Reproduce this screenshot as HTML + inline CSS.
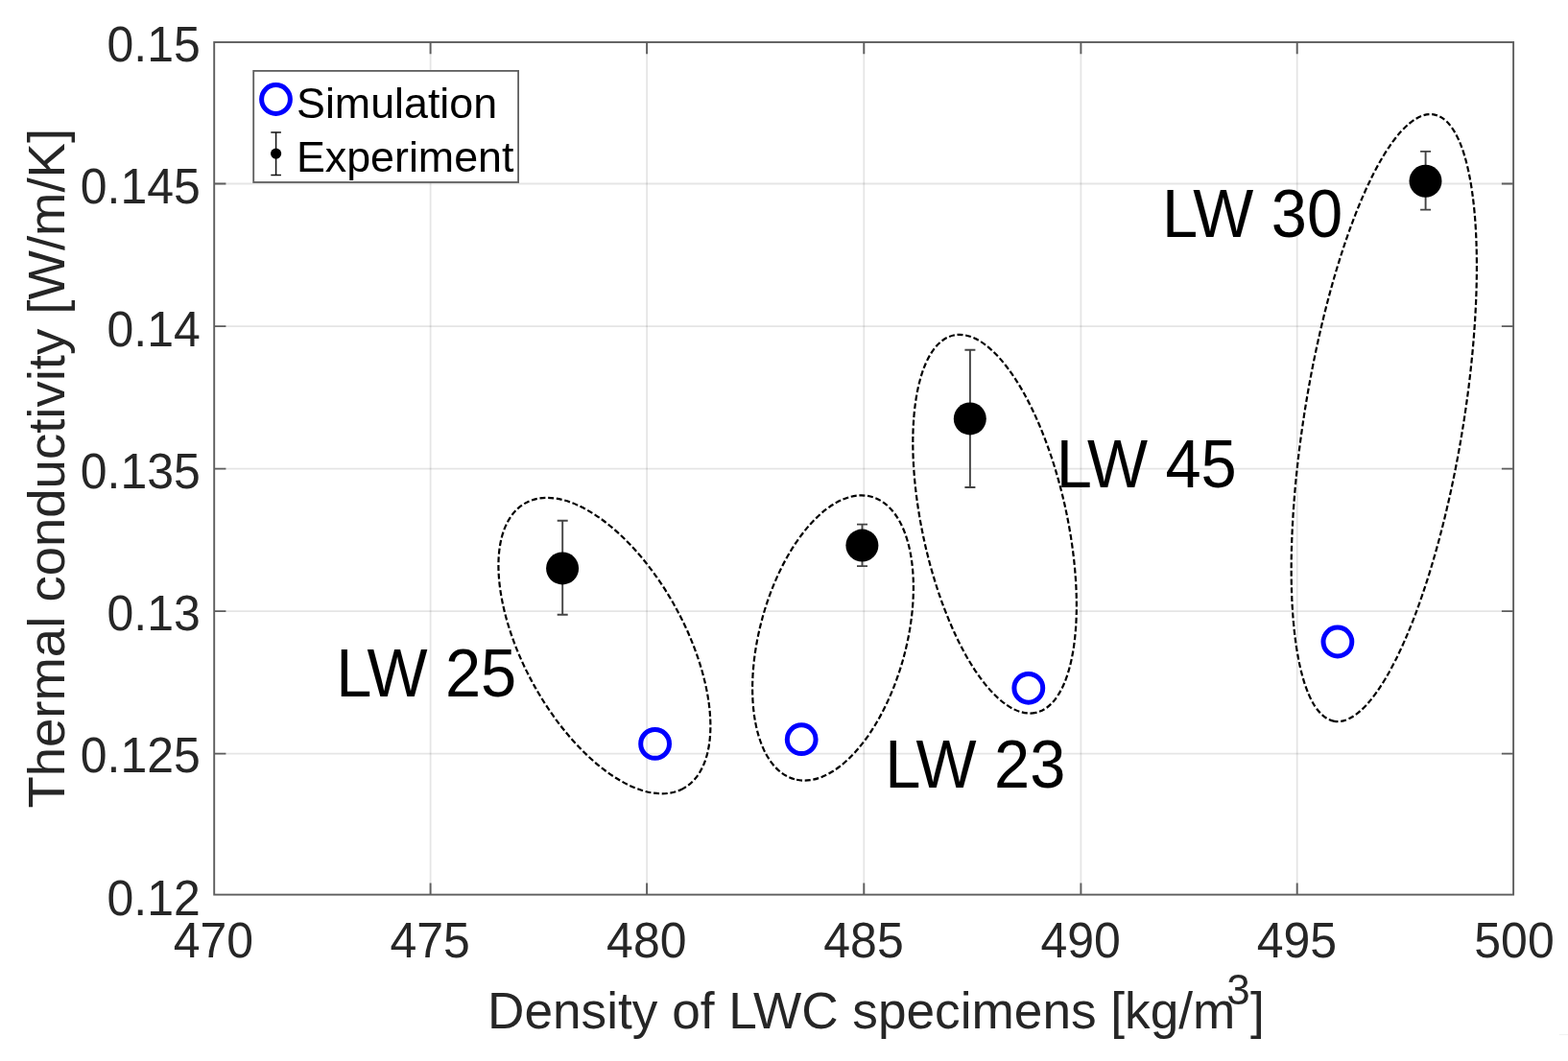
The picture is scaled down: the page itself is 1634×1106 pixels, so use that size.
<!DOCTYPE html>
<html><head><meta charset="utf-8"><title>Thermal conductivity vs density</title>
<style>
html,body{margin:0;padding:0;background:#fff;width:1634px;height:1106px;overflow:hidden}
svg{display:block}
text{font-family:"Liberation Sans",Arial,Helvetica,sans-serif}
</style></head>
<body>
<svg width="1634" height="1106" viewBox="0 0 1634 1106">
<rect x="0" y="0" width="1634" height="1106" fill="#fff"/>
<!-- grid -->
<g stroke="#000" stroke-opacity="0.1" stroke-width="1.8" fill="none">
<line x1="448.6" y1="44" x2="448.6" y2="932.6"/>
<line x1="674.1" y1="44" x2="674.1" y2="932.6"/>
<line x1="900.3" y1="44" x2="900.3" y2="932.6"/>
<line x1="1126.4" y1="44" x2="1126.4" y2="932.6"/>
<line x1="1351.7" y1="44" x2="1351.7" y2="932.6"/>
<line x1="223.2" y1="191.5" x2="1577.1" y2="191.5"/>
<line x1="223.2" y1="340.1" x2="1577.1" y2="340.1"/>
<line x1="223.2" y1="488.6" x2="1577.1" y2="488.6"/>
<line x1="223.2" y1="637.1" x2="1577.1" y2="637.1"/>
<line x1="223.2" y1="785.6" x2="1577.1" y2="785.6"/>
</g>
<!-- axes box -->
<g stroke="#5e5e5e" stroke-width="1.9" fill="none">
<rect x="223.2" y="44" width="1353.9" height="888.6"/>
<!-- bottom ticks -->
<path d="M448.6 932.6V920.4M674.1 932.6V920.4M900.3 932.6V920.4M1126.4 932.6V920.4M1351.7 932.6V920.4
M448.6 44V56.2M674.1 44V56.2M900.3 44V56.2M1126.4 44V56.2M1351.7 44V56.2
M223.2 191.5H235.4M223.2 340.1H235.4M223.2 488.6H235.4M223.2 637.1H235.4M223.2 785.6H235.4
M1577.1 191.5H1564.9M1577.1 340.1H1564.9M1577.1 488.6H1564.9M1577.1 637.1H1564.9M1577.1 785.6H1564.9"/>
</g>
<!-- y tick labels -->
<g fill="#262626" font-size="50" text-anchor="end">
<text transform="translate(208.8 63.90) scale(1 1.025)">0.15</text>
<text transform="translate(208.8 212.20) scale(1 1.025)">0.145</text>
<text transform="translate(208.8 360.50) scale(1 1.025)">0.14</text>
<text transform="translate(208.8 508.80) scale(1 1.025)">0.135</text>
<text transform="translate(208.8 657.10) scale(1 1.025)">0.13</text>
<text transform="translate(208.8 805.40) scale(1 1.025)">0.125</text>
<text transform="translate(208.8 953.70) scale(1 1.025)">0.12</text>
</g>
<!-- x tick labels -->
<g fill="#262626" font-size="50" text-anchor="middle">
<text transform="translate(222.4 998.3) scale(1 1.025)">470</text>
<text transform="translate(448.1 998.3) scale(1 1.025)">475</text>
<text transform="translate(673.8 998.3) scale(1 1.025)">480</text>
<text transform="translate(900.0 998.3) scale(1 1.025)">485</text>
<text transform="translate(1126.1 998.3) scale(1 1.025)">490</text>
<text transform="translate(1351.4 998.3) scale(1 1.025)">495</text>
<text transform="translate(1578.0 998.3) scale(1 1.025)">500</text>
</g>
<!-- axis labels -->
<text x="508.05" y="1071.9" fill="#262626" font-size="53.2">Density of LWC specimens [kg/m<tspan x="1278.2" y="1047.4" font-size="44">3</tspan><tspan x="1303" y="1071.9">]</tspan></text>
<text transform="translate(66.5 842.6) rotate(-90)" fill="#262626" font-size="54.5">Thermal conductivity [W/m/K]</text>
<!-- ellipses -->
<g fill="none" stroke="#000" stroke-width="2.2" stroke-dasharray="6 2.7">
<ellipse cx="629.9" cy="673.1" rx="170.0" ry="84.2" transform="rotate(61.04 629.9 673.1)"/>
<ellipse cx="868.0" cy="665.0" rx="152.6" ry="76.4" transform="rotate(105.21 868.0 665.0)"/>
<ellipse cx="1036.6" cy="546.2" rx="201.3" ry="75.5" transform="rotate(77.73 1036.6 546.2)"/>
<ellipse cx="1442.3" cy="435.6" rx="320.4" ry="82.7" transform="rotate(99.29 1442.3 435.6)"/>
</g>
<!-- labels -->
<g fill="#000" font-size="66.8">
<text transform="translate(350.2 726.3) scale(1 1.04)">LW 25</text>
<text transform="translate(922.35 820.8) scale(1 1.04)">LW 23</text>
<text transform="translate(1100.7 507.8) scale(1 1.04)">LW 45</text>
<text transform="translate(1211.1 247.3) scale(1 1.04)">LW 30</text>
</g>
<!-- simulation -->
<g fill="none" stroke="#0000ff" stroke-width="5">
<circle cx="682.6" cy="775.4" r="14.9"/>
<circle cx="835.2" cy="770.7" r="14.9"/>
<circle cx="1071.8" cy="717.3" r="14.9"/>
<circle cx="1393.9" cy="669.0" r="14.9"/>
</g>
<!-- experiment error bars -->
<g stroke="#444" stroke-width="1.9" fill="none">
<path d="M586.2 542.8V640.7M580.7 542.8H591.7M580.7 640.7H591.7"/>
<path d="M898.5 546.6V590.1M893 546.6H904M893 590.1H904"/>
<path d="M1010.9 364.7V508M1005.4 364.7H1016.4M1005.4 508H1016.4"/>
<path d="M1485.6 157.9V218.6M1480.1 157.9H1491.1M1480.1 218.6H1491.1"/>
</g>
<g fill="#000">
<circle cx="586.1" cy="592.4" r="17"/>
<circle cx="898.4" cy="568.6" r="17"/>
<circle cx="1010.8" cy="436.4" r="17"/>
<circle cx="1485.5" cy="188.8" r="17"/>
</g>
<!-- legend -->
<rect x="264.2" y="73.9" width="275.9" height="116.1" fill="#fff" stroke="#5e5e5e" stroke-width="1.8"/>
<circle cx="287.5" cy="103.5" r="14.9" fill="none" stroke="#0000ff" stroke-width="5"/>
<path d="M287.6 138V182.5M282.3 138H292.9M282.3 182.5H292.9" stroke="#111" stroke-width="1.5" fill="none"/>
<circle cx="287.6" cy="160.1" r="5.6" fill="#000"/>
<g fill="#000" font-size="44.8">
<text x="309" y="122.6">Simulation</text>
<text x="308.9" y="178.5">Experiment</text>
</g>
<line x1="1625" y1="1078.5" x2="1634" y2="1078.5" stroke="#f2f2f2" stroke-width="1.2"/>
</svg>
</body></html>
